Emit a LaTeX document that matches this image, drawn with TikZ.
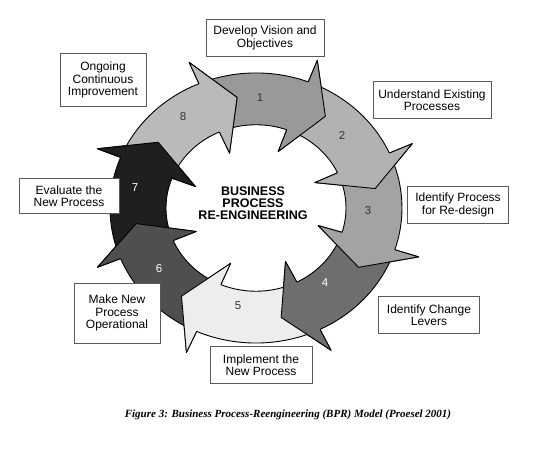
\documentclass[tikz,border=0pt]{standalone}
\usepackage{fontspec}
\setmainfont{Liberation Serif}
\setsansfont{Liberation Sans}
\usetikzlibrary{positioning}

\newcommand{\bprarrow}[2]{%
  (#2:146) arc[start angle=#2, end angle=#1+14, radius=146]
  -- (#1+14:171) -- (#1:121) -- (#1+15:65) -- (#1+15:90)
  arc[start angle=#1+15, end angle=#2, radius=90] -- cycle}
\newcommand{\bprhead}[1]{%
  (#1+14:146) -- (#1+14:171) -- (#1:121) -- (#1+15:65) -- (#1+15:90)}

\begin{document}
\begin{tikzpicture}[
    x=1pt, y=1pt,
    box/.style={draw=black!65, fill=white, align=center, inner sep=2pt,
      minimum height=37pt, font=\sffamily\fontsize{12}{12.5}\selectfont},
    stage/.style={draw=black, line width=0.9pt, line join=round},
    num/.style={font=\sffamily\fontsize{11.5}{12}\selectfont, text=black!80}
]
\useasboundingbox (0,0) rectangle (539,448);

\begin{scope}[shift={(256,240)}, yscale=0.925]
  \foreach \tip/\tail/\col in {55/110.5/black!40, 10/66.5/black!30,
      -32/21.5/black!36, -78/-20.5/black!57, -128/-66.5/black!7,
      -172/-116.5/black!69, -216/-160.5/black!88, -261/-204.5/black!27}
    \filldraw[stage, fill=\col] \bprarrow{\tip}{\tail};
  \foreach \tip/\col in {55/black!40, 10/black!30, -32/black!36,
      -78/black!57, -128/black!7, -172/black!69, -216/black!88, -261/black!27} {
    \fill[\col] \bprhead{\tip} -- cycle;
    \draw[stage] \bprhead{\tip};
  }
\end{scope}

\node[num] (n1) at (260,350) {1};
\node[num] (n2) at (342,313) {2};
\node[num] (n3) at (368,237) {3};
\node[num, text=white] (n4) at (325,165) {4};
\node[num] (n5) at (238,142) {5};
\node[num, text=white] (n6) at (159,179) {6};
\node[num, text=white] (n7) at (135,260) {7};
\node[num] (n8) at (183,331) {8};

\node[font=\sffamily\bfseries\fontsize{12.5}{12}\selectfont, align=center]
  (title) at (253,245) {BUSINESS\\PROCESS\\RE-ENGINEERING};

\node[box, minimum width=118pt] (vision) at (265,410) {Develop Vision and\\Objectives};
\node[box, minimum width=118pt] (understand) at (432,348) {Understand Existing\\Processes};
\node[box, minimum width=101pt] (redesign) at (458,243) {Identify Process\\for Re-design};
\node[box, minimum width=101pt] (levers) at (429,133) {Identify Change\\Levers};
\node[box, minimum width=102pt] (implement) at (261,83) {Implement the\\New Process};
\node[box, minimum width=86pt, minimum height=60pt] (operational) at (117,135) {Make New\\Process\\Operational};
\node[box, minimum width=100pt, minimum height=35pt] (evaluate) at (69,252) {Evaluate the\\New Process};
\node[box, minimum width=86pt, minimum height=53pt] (improve) at (103,368) {Ongoing\\Continuous\\Improvement};

\node[font=\rmfamily\bfseries\itshape\fontsize{11}{12}\selectfont] (caption) at (288,33)
  {Figure 3: Business Process-Reengineering (BPR) Model (Proesel 2001)};
\end{tikzpicture}
\end{document}
